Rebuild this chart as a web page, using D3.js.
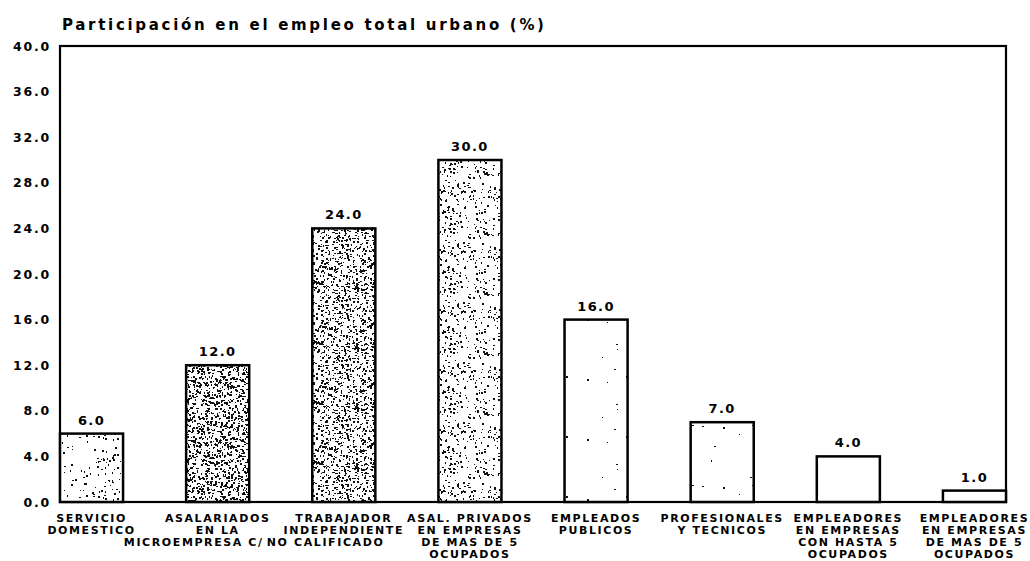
<!DOCTYPE html>
<html>
<head>
<meta charset="utf-8">
<script src="https://cdn.jsdelivr.net/npm/d3@7"></script>
<style>
  body { margin: 0; background: #fff; }
  text { font-family: "DejaVu Sans", sans-serif; font-weight: bold; fill: #000; }
</style>
</head>
<body>
<div class="chart"></div>
<script>
var svgWidth = 1030;
var svgHeight = 561;

var margin = { top: 46, right: 24, bottom: 59, left: 60 };

var width = svgWidth - margin.left - margin.right;
var height = svgHeight - margin.top - margin.bottom;

// data
var categories = [
  ["SERVICIO", "DOMESTICO"],
  ["ASALARIADOS", "EN LA", "MICROEMPRESA C/"],
  ["TRABAJADOR", "INDEPENDIENTE", "NO CALIFICADO"],
  ["ASAL. PRIVADOS", "EN EMPRESAS", "DE MAS DE 5", "OCUPADOS"],
  ["EMPLEADOS", "PUBLICOS"],
  ["PROFESIONALES", "Y TECNICOS"],
  ["EMPLEADORES", "EN EMPRESAS", "CON HASTA 5", "OCUPADOS"],
  ["EMPLEADORES", "EN EMPRESAS", "DE MAS DE 5", "OCUPADOS"]
];
var values = [6.0, 12.0, 24.0, 30.0, 16.0, 7.0, 4.0, 1.0];
var yTicks = [0, 4, 8, 12, 16, 20, 24, 28, 32, 36, 40];
var title = "Participación en el empleo total urbano (%)";

// stipple density per bar (texture only)
var stipple = [0.05, 0.3, 0.25, 0.1, 0.004, 0.004, 0, 0];

var svg = d3.select(".chart")
  .append("svg")
  .attr("width", svgWidth)
  .attr("height", svgHeight);

// seeded dot patterns for the speckled fills
var defs = svg.append("defs");
var seed = 7;
function rnd() {
  seed = (seed * 16807) % 2147483647;
  return seed / 2147483647;
}
stipple.forEach(function(dens, i) {
  var p = defs.append("pattern")
    .attr("id", "dots" + i)
    .attr("patternUnits", "userSpaceOnUse")
    .attr("width", 60)
    .attr("height", 60);
  p.append("rect").attr("width", 60).attr("height", 60).attr("fill", "#fff");
  var n = Math.round(dens * 3600 / 2);
  for (var k = 0; k < n; k++) {
    p.append("rect")
      .attr("x", Math.floor(rnd() * 60))
      .attr("y", Math.floor(rnd() * 60))
      .attr("width", rnd() < 0.5 ? 1 : 2)
      .attr("height", rnd() < 0.5 ? 1 : 2)
      .attr("fill", "#111");
  }
});

var chartGroup = svg.append("g")
  .attr("transform", `translate(${margin.left}, ${margin.top})`);

var xBandScale = d3.scaleBand()
  .domain(d3.range(values.length))
  .range([0, width])
  .paddingInner(0.5)
  .paddingOuter(0);

var yLinearScale = d3.scaleLinear()
  .domain([0, 40])
  .range([height, 0]);

// title
svg.append("text")
  .attr("x", 62)
  .attr("y", 30)
  .attr("font-size", "15px")
  .attr("letter-spacing", "2.7px")
  .text(title);

// y axis labels, no tick marks
var leftAxis = d3.axisLeft(yLinearScale)
  .tickValues(yTicks)
  .tickFormat(d3.format(".1f"))
  .tickSize(0)
  .tickPadding(9);

var yAxis = chartGroup.append("g").call(leftAxis);
yAxis.select(".domain").remove();
yAxis.selectAll("text")
  .attr("font-family", null)
  .attr("font-size", "12.5px")
  .attr("letter-spacing", "1.8px")
  .attr("fill", "#000");

// frame
chartGroup.append("rect")
  .attr("x", 0)
  .attr("y", 0)
  .attr("width", width)
  .attr("height", height)
  .attr("fill", "none")
  .attr("stroke", "#000")
  .attr("stroke-width", 2.2);

// bars
chartGroup.selectAll(".bar")
  .data(values)
  .enter()
  .append("rect")
  .attr("class", "bar")
  .attr("x", (d, i) => xBandScale(i))
  .attr("y", d => yLinearScale(d))
  .attr("width", xBandScale.bandwidth())
  .attr("height", d => height - yLinearScale(d))
  .attr("fill", (d, i) => `url(#dots${i})`)
  .attr("stroke", "#000")
  .attr("stroke-width", 2.5);

// value labels
chartGroup.selectAll(".val")
  .data(values)
  .enter()
  .append("text")
  .attr("class", "val")
  .attr("x", (d, i) => xBandScale(i) + xBandScale.bandwidth() / 2)
  .attr("y", d => yLinearScale(d) - 9)
  .attr("text-anchor", "middle")
  .attr("font-size", "13px")
  .attr("letter-spacing", "1.4px")
  .text(d => d3.format(".1f")(d));

// category labels; the two crowded third lines are pushed apart like the original
var lineAnchor = { "1-2": ["end", 46], "2-2": ["start", -77] };
categories.forEach(function(lines, i) {
  var cx = xBandScale(i) + xBandScale.bandwidth() / 2;
  lines.forEach(function(line, j) {
    var a = lineAnchor[i + "-" + j] || ["middle", 0];
    chartGroup.append("text")
      .attr("x", cx + a[1])
      .attr("y", height + 20 + j * 12)
      .attr("text-anchor", a[0])
      .attr("font-size", "11px")
      .attr("letter-spacing", "1.6px")
      .text(line);
  });
});
</script>
</body>
</html>
